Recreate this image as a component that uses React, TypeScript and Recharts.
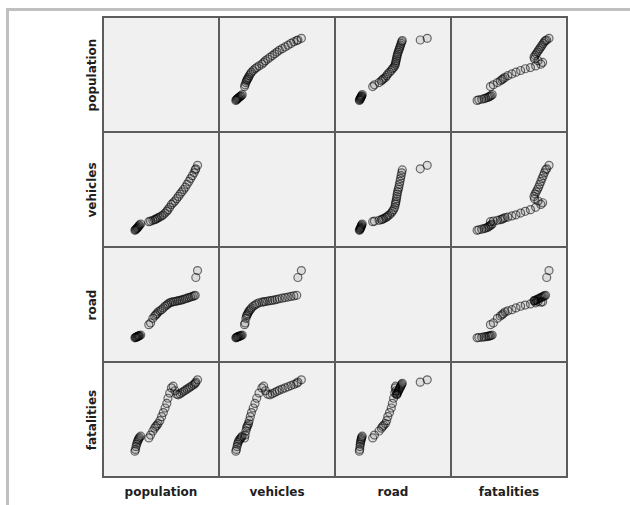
import React from 'react';
import { ScatterChart, Scatter, XAxis, YAxis } from 'recharts';

// Variable names (axis labels of the matrix)
const variables = ['population', 'vehicles', 'road', 'fatalities'];

// Values, expressed on a 0-100 scale of each panel
const population = [
  27.5, 28.0, 28.5, 29.0, 29.5, 30.0, 30.5, 31.0, 31.5, 32.5,
  39.5, 41.0, 43.0, 44.5, 45.5, 46.5, 47.5,
  49.0, 50.5, 52.0, 53.5, 55.0, 56.0, 57.5, 59.0,
  60.5, 62.0, 63.5, 65.0, 66.5, 68.0, 69.5, 71.0, 72.5, 74.0, 75.5, 77.0, 78.5, 79.5,
  80.0, 81.5,
];
const vehicles = [
  14.5, 15.0, 15.5, 16.0, 16.5, 17.0, 17.8, 18.5, 19.2, 20.0,
  22.0, 22.5, 23.2, 23.8, 24.2, 24.8, 25.5,
  26.0, 27.0, 28.0, 29.5, 31.0, 32.5, 34.5, 37.0,
  38.5, 40.0, 42.0, 44.0, 46.0, 48.0, 50.0, 52.0, 54.5, 57.0, 59.5, 62.0, 64.5, 67.0,
  68.0, 71.0,
];
const road = [
  21.0, 21.3, 21.5, 21.8, 22.0, 22.3, 22.5, 22.8, 23.0, 23.5,
  32.5, 34.0, 38.0, 40.0, 41.0, 42.0, 43.5,
  44.5, 45.5, 47.0, 48.5, 49.5, 50.5, 51.5, 52.0,
  52.3, 52.6, 53.0, 53.3, 53.6, 54.0, 54.5, 55.0, 55.5, 56.0, 56.5, 57.0, 57.5, 58.0,
  73.5, 79.5,
];
const fatalities = [
  22.5, 24.0, 26.5, 28.5, 30.0, 31.5, 32.5, 33.5, 34.5, 35.5,
  34.0, 36.5, 40.0, 42.5, 44.0, 45.0, 46.5,
  49.0, 52.5, 56.0, 60.0, 64.0, 68.5, 73.0, 77.5,
  79.0, 75.0, 72.0, 71.5, 72.5, 73.5, 74.5, 75.5, 76.5, 77.5, 78.5, 79.5, 80.5, 81.5,
  82.5, 84.5,
];

const series: Record<string, number[]> = { population, vehicles, road, fatalities };

const GRID_LEFT = 103;
const GRID_TOP = 17;
const CELL_W = 116;
const CELL_H = 115;
const N = variables.length;

const LINE = '#5c5c5c';

const Dot = (props: any) => {
  const { cx, cy } = props;
  if (cx == null || cy == null) return null;
  return (
    <circle
      cx={cx}
      cy={cy}
      r={4}
      fill="#000"
      fillOpacity={0.08}
      stroke="#000"
      strokeOpacity={0.55}
      strokeWidth={1.2}
    />
  );
};

const labelFont: React.CSSProperties = {
  fontFamily: '"DejaVu Sans", Verdana, sans-serif',
  fontWeight: 'bold',
  fontSize: 12,
  color: '#1e1e1e',
  whiteSpace: 'nowrap',
};

function Panel({ r, c }: { r: number; c: number }) {
  const xs = series[variables[c]];
  const ys = series[variables[r]];
  const data = xs.map((x, i) => ({ x, y: ys[i] }));
  return (
    <div
      style={{
        position: 'absolute',
        left: GRID_LEFT + c * CELL_W,
        top: GRID_TOP + r * CELL_H,
        width: CELL_W,
        height: CELL_H,
        background: '#f0f0f0',
      }}
    >
      {r !== c && (
        <ScatterChart width={CELL_W} height={CELL_H} margin={{ top: 0, right: 0, bottom: 0, left: 0 }}>
          <XAxis type="number" dataKey="x" domain={[0, 100]} hide />
          <YAxis type="number" dataKey="y" domain={[0, 100]} hide />
          <Scatter data={data} isAnimationActive={false} shape={Dot} />
        </ScatterChart>
      )}
    </div>
  );
}

export default function App() {
  const panels: React.ReactNode[] = [];
  for (let r = 0; r < N; r++) {
    for (let c = 0; c < N; c++) {
      panels.push(<Panel key={`${r}-${c}`} r={r} c={c} />);
    }
  }
  const lines: React.ReactNode[] = [];
  for (let i = 0; i <= N; i++) {
    lines.push(
      <div
        key={`v${i}`}
        style={{
          position: 'absolute',
          left: GRID_LEFT + i * CELL_W - 1,
          top: GRID_TOP - 1,
          width: 2,
          height: N * CELL_H + 2,
          background: LINE,
        }}
      />
    );
    lines.push(
      <div
        key={`h${i}`}
        style={{
          position: 'absolute',
          left: GRID_LEFT - 1,
          top: GRID_TOP + i * CELL_H - 1,
          width: N * CELL_W + 2,
          height: 2,
          background: LINE,
        }}
      />
    );
  }
  return (
    <div
      style={{
        position: 'absolute',
        left: 0,
        top: 0,
        width: 630,
        height: 505,
        background: '#fff',
        overflow: 'hidden',
      }}
    >
      {/* outer frame */}
      <div style={{ position: 'absolute', left: 6, top: 8, width: 624, height: 3, background: '#c0c0c0' }} />
      <div style={{ position: 'absolute', left: 6, top: 8, width: 3, height: 497, background: '#c0c0c0' }} />
      {panels}
      {lines}
      {variables.map((v, i) => (
        <div
          key={`cl${v}`}
          style={{
            ...labelFont,
            position: 'absolute',
            left: GRID_LEFT + i * CELL_W,
            top: 484,
            width: CELL_W,
            height: 16,
            lineHeight: '16px',
            textAlign: 'center',
          }}
        >
          {v}
        </div>
      ))}
      {variables.map((v, i) => (
        <div
          key={`rl${v}`}
          style={{
            ...labelFont,
            position: 'absolute',
            left: 91 - CELL_H / 2,
            top: GRID_TOP + i * CELL_H + CELL_H / 2 - 8,
            width: CELL_H,
            height: 16,
            lineHeight: '16px',
            textAlign: 'center',
            transform: 'rotate(-90deg)',
          }}
        >
          {v}
        </div>
      ))}
    </div>
  );
}
